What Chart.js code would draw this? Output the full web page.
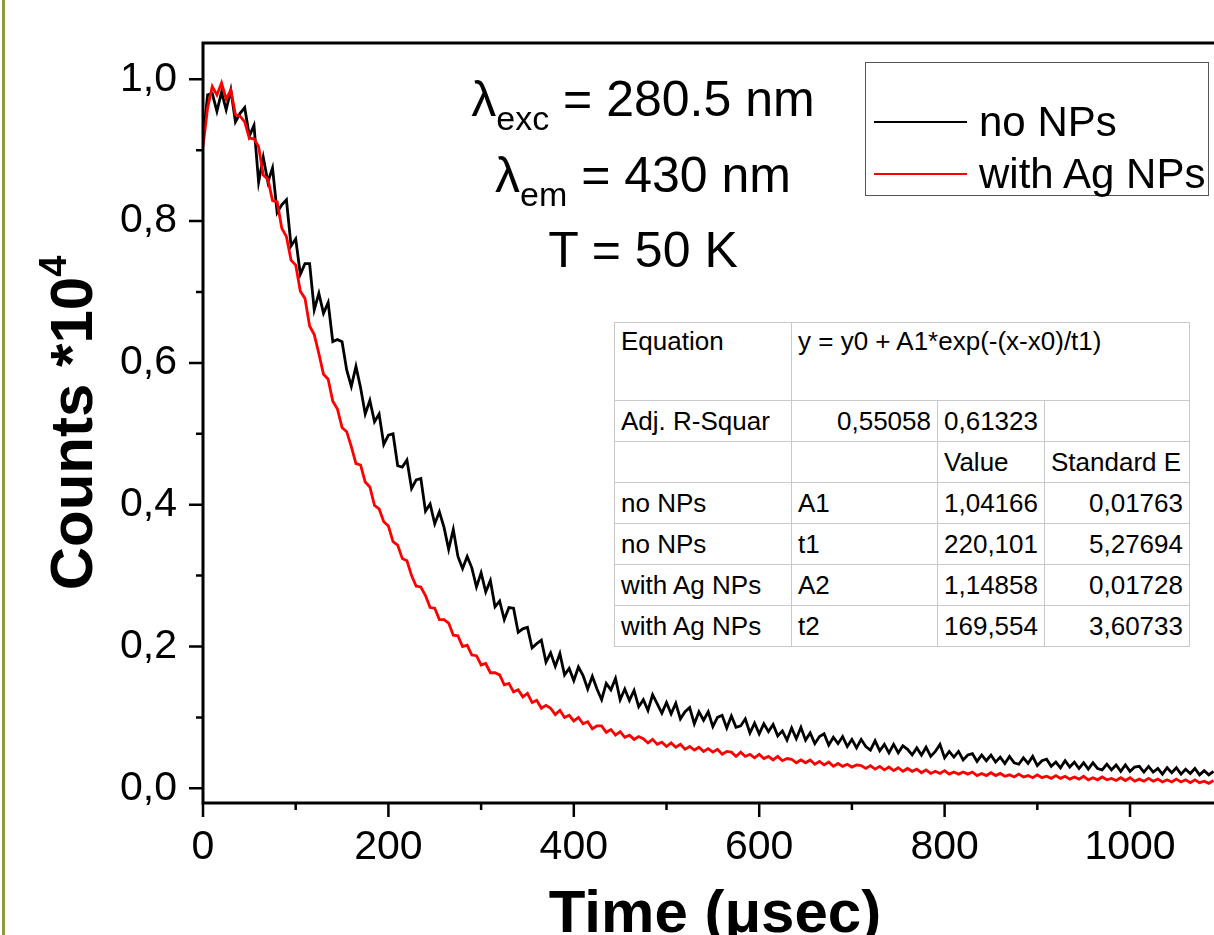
<!DOCTYPE html>
<html>
<head>
<meta charset="utf-8">
<script src="https://cdn.jsdelivr.net/npm/chart.js"></script>
<style>
body { margin: 0; background: #fff; }
#wrap { position: relative; width: 1214px; height: 935px; overflow: hidden; background: #fff;
        font-family: "Liberation Sans", Arial, sans-serif; color: #000; }
#decay { position: absolute; left: 0; top: 0; }
.edge { position: absolute; left: 2px; top: 0; width: 3px; height: 935px; background: #8f9b3c; }
.ytitle { position: absolute; left: 0; top: 0; width: 420px; height: 60px; line-height: 60px;
          font-size: 60px; font-weight: bold; text-align: center; white-space: nowrap;
          transform: translate(-138px, 393px) rotate(-90deg); }
.ytitle .sup { font-size: 38px; position: relative; top: -26px; line-height: 0; }
.xtitle { position: absolute; left: 415px; top: 882px; width: 600px; text-align: center;
          font-size: 60px; line-height: 60px; font-weight: bold; white-space: nowrap; }
.note { position: absolute; left: 393px; width: 500px; text-align: center; font-size: 50px;
        line-height: 50px; white-space: nowrap; }
.note .sub { font-size: 34px; position: relative; top: 14px; line-height: 0; }
.legend { position: absolute; left: 865px; top: 62px; width: 342px; height: 132px;
          border: 1px solid #555; background: #fff; }
.legend .swatch { position: absolute; left: 8px; width: 93px; height: 2px; }
.legend .lbl { position: absolute; left: 113px; font-size: 42px; line-height: 40px; white-space: nowrap; }
#fit { position: absolute; left: 614px; top: 322px; border-collapse: collapse; background: #fff;
       table-layout: fixed; width: 575px; font-size: 26px; border: 1px solid #4a4a4a; }
#fit td { border: 1px solid #c9c9c9; padding: 0 6px; height: 40px; white-space: nowrap; overflow: hidden; }
#fit td.r { text-align: right; }
#fit tr.eq td { height: 74px; vertical-align: top; padding-top: 3px; }
</style>
</head>
<body>
<div id="wrap">
  <canvas id="decay" width="1214" height="935"></canvas>
  <div class="edge"></div>
  <div class="ytitle">Counts *10<span class="sup">4</span></div>
  <div class="xtitle">Time (μsec)</div>
  <div class="note" style="top:74px">λ<span class="sub">exc</span> = 280.5 nm</div>
  <div class="note" style="top:150px">λ<span class="sub">em</span> = 430 nm</div>
  <div class="note" style="top:225px">T = 50 K</div>
  <div class="legend">
    <div class="swatch" style="top:58px;background:#000"></div>
    <div class="lbl" style="top:39px">no NPs</div>
    <div class="swatch" style="top:110px;background:#ff0000"></div>
    <div class="lbl" style="top:91px">with Ag NPs</div>
  </div>
  <table id="fit"></table>
</div>
<script>
// time axis (usec)
const timeUs = [
  0, 5, 10, 15, 20, 25, 30, 35, 40, 45,
  50, 55, 60, 65, 70, 75, 80, 85, 90, 95,
  100, 105, 110, 115, 120, 125, 130, 135, 140, 145,
  150, 155, 160, 165, 170, 175, 180, 185, 190, 195,
  200, 205, 210, 215, 220, 225, 230, 235, 240, 245,
  250, 255, 260, 265, 270, 275, 280, 285, 290, 295,
  300, 305, 310, 315, 320, 325, 330, 335, 340, 345,
  350, 355, 360, 365, 370, 375, 380, 385, 390, 395,
  400, 405, 410, 415, 420, 425, 430, 435, 440, 445,
  450, 455, 460, 465, 470, 475, 480, 485, 490, 495,
  500, 505, 510, 515, 520, 525, 530, 535, 540, 545,
  550, 555, 560, 565, 570, 575, 580, 585, 590, 595,
  600, 605, 610, 615, 620, 625, 630, 635, 640, 645,
  650, 655, 660, 665, 670, 675, 680, 685, 690, 695,
  700, 705, 710, 715, 720, 725, 730, 735, 740, 745,
  750, 755, 760, 765, 770, 775, 780, 785, 790, 795,
  800, 805, 810, 815, 820, 825, 830, 835, 840, 845,
  850, 855, 860, 865, 870, 875, 880, 885, 890, 895,
  900, 905, 910, 915, 920, 925, 930, 935, 940, 945,
  950, 955, 960, 965, 970, 975, 980, 985, 990, 995,
  1000, 1005, 1010, 1015, 1020, 1025, 1030, 1035, 1040, 1045,
  1050, 1055, 1060, 1065, 1070, 1075, 1080, 1085, 1090
];

// counts *10^4, no NPs (black)
const noNPs = [
  0.915, 0.978, 0.980, 0.955, 0.982, 0.957, 0.985, 0.940, 0.952, 0.960,
  0.920, 0.935, 0.855, 0.890, 0.855, 0.875, 0.812, 0.823, 0.830, 0.765,
  0.775, 0.725, 0.740, 0.740, 0.675, 0.698, 0.670, 0.685, 0.630, 0.633,
  0.630, 0.590, 0.567, 0.595, 0.565, 0.528, 0.547, 0.517, 0.528, 0.485,
  0.498, 0.500, 0.455, 0.453, 0.463, 0.423, 0.435, 0.437, 0.391, 0.401,
  0.373, 0.390, 0.368, 0.337, 0.365, 0.327, 0.310, 0.327, 0.311, 0.284,
  0.304, 0.277, 0.293, 0.256, 0.264, 0.238, 0.255, 0.254, 0.220, 0.225,
  0.227, 0.198, 0.204, 0.209, 0.178, 0.191, 0.172, 0.190, 0.160, 0.169,
  0.152, 0.171, 0.159, 0.140, 0.158, 0.140, 0.125, 0.148, 0.139, 0.155,
  0.125, 0.140, 0.124, 0.138, 0.115, 0.125, 0.110, 0.132, 0.119, 0.106,
  0.121, 0.105, 0.120, 0.098, 0.108, 0.114, 0.091, 0.108, 0.096, 0.108,
  0.087, 0.100, 0.103, 0.085, 0.102, 0.086, 0.088, 0.098, 0.078, 0.092,
  0.077, 0.091, 0.080, 0.090, 0.074, 0.081, 0.068, 0.085, 0.070, 0.086,
  0.068, 0.078, 0.063, 0.073, 0.077, 0.061, 0.072, 0.063, 0.073, 0.059,
  0.069, 0.057, 0.069, 0.059, 0.054, 0.067, 0.053, 0.062, 0.050, 0.062,
  0.050, 0.060, 0.055, 0.047, 0.057, 0.047, 0.058, 0.045, 0.052, 0.062,
  0.043, 0.052, 0.044, 0.052, 0.040, 0.047, 0.049, 0.038, 0.047, 0.039,
  0.047, 0.037, 0.044, 0.035, 0.045, 0.036, 0.034, 0.043, 0.035, 0.045,
  0.032, 0.039, 0.041, 0.031, 0.037, 0.029, 0.039, 0.030, 0.037, 0.028,
  0.036, 0.027, 0.036, 0.028, 0.026, 0.034, 0.026, 0.033, 0.024, 0.033,
  0.024, 0.030, 0.031, 0.023, 0.031, 0.023, 0.028, 0.020, 0.029, 0.022,
  0.029, 0.020, 0.027, 0.021, 0.028, 0.019, 0.025, 0.019, 0.024
];

// counts *10^4, with Ag NPs (red)
const withAgNPs = [
  0.905, 0.960, 0.990, 0.978, 0.995, 0.972, 0.985, 0.950, 0.948, 0.940,
  0.917, 0.916, 0.905, 0.865, 0.859, 0.829, 0.827, 0.790, 0.778, 0.745,
  0.738, 0.701, 0.691, 0.652, 0.640, 0.613, 0.584, 0.577, 0.546, 0.535,
  0.509, 0.503, 0.482, 0.458, 0.456, 0.432, 0.425, 0.399, 0.394, 0.376,
  0.370, 0.348, 0.343, 0.324, 0.321, 0.300, 0.285, 0.284, 0.272, 0.255,
  0.254, 0.238, 0.238, 0.233, 0.216, 0.215, 0.200, 0.202, 0.188, 0.187,
  0.174, 0.176, 0.163, 0.163, 0.160, 0.146, 0.148, 0.136, 0.139, 0.129,
  0.134, 0.121, 0.124, 0.113, 0.117, 0.113, 0.104, 0.110, 0.100, 0.103,
  0.095, 0.100, 0.091, 0.094, 0.084, 0.088, 0.088, 0.079, 0.083, 0.075,
  0.080, 0.072, 0.075, 0.069, 0.073, 0.070, 0.064, 0.069, 0.062, 0.065,
  0.059, 0.064, 0.058, 0.062, 0.055, 0.059, 0.054, 0.058, 0.052, 0.056,
  0.051, 0.055, 0.048, 0.052, 0.051, 0.045, 0.051, 0.045, 0.048, 0.043,
  0.048, 0.042, 0.045, 0.040, 0.045, 0.039, 0.042, 0.041, 0.036, 0.040,
  0.036, 0.040, 0.034, 0.038, 0.033, 0.037, 0.031, 0.035, 0.031, 0.034,
  0.030, 0.033, 0.032, 0.028, 0.032, 0.027, 0.031, 0.026, 0.030, 0.025,
  0.029, 0.024, 0.028, 0.024, 0.027, 0.022, 0.026, 0.021, 0.024, 0.021,
  0.025, 0.020, 0.023, 0.020, 0.023, 0.020, 0.023, 0.018, 0.021, 0.018,
  0.022, 0.018, 0.021, 0.017, 0.019, 0.016, 0.020, 0.016, 0.018, 0.015,
  0.019, 0.015, 0.017, 0.014, 0.018, 0.014, 0.017, 0.013, 0.016, 0.013,
  0.017, 0.012, 0.015, 0.012, 0.016, 0.012, 0.014, 0.011, 0.015, 0.011,
  0.015, 0.010, 0.013, 0.010, 0.014, 0.010, 0.013, 0.009, 0.012, 0.009,
  0.013, 0.009, 0.012, 0.008, 0.012, 0.008, 0.010, 0.007, 0.011
];

// tick positions (labels only on the major ones)
const xTickValues = [0, 100, 200, 300, 400, 500, 600, 700, 800, 900, 1000];
const xTickLabels = ['0', '', '200', '', '400', '', '600', '', '800', '', '1000'];
const yTickValues = [0, 0.1, 0.2, 0.3, 0.4, 0.5, 0.6, 0.7, 0.8, 0.9, 1.0];
const yTickLabels = ['0,0', '', '0,2', '', '0,4', '', '0,6', '', '0,8', '', '1,0'];

// fit table (Origin output)
const fitHeader = ['Equation', 'y = y0 + A1*exp(-(x-x0)/t1)'];
const fitRSquare = ['Adj. R-Squar', '0,55058', '0,61323', ''];
const fitColumns = ['', '', 'Value', 'Standard E'];
const fitRows = [
  ['no NPs', 'A1', '1,04166', '0,01763'],
  ['no NPs', 't1', '220,101', '5,27694'],
  ['with Ag NPs', 'A2', '1,14858', '0,01728'],
  ['with Ag NPs', 't2', '169,554', '3,60733']
];

const font = '"Liberation Sans", Arial, sans-serif';

function buildTable() {
    const t = document.getElementById('fit');
    const colW = [177, 146, 107, 145];
    let html = '<colgroup>' + colW.map(w => '<col style="width:' + w + 'px">').join('') + '</colgroup>';
    html += '<tr class="eq"><td>' + fitHeader[0] + '</td><td colspan="3">' + fitHeader[1] + '</td></tr>';
    html += '<tr><td>' + fitRSquare[0] + '</td><td class="r">' + fitRSquare[1] +
        '</td><td>' + fitRSquare[2] + '</td><td>' + fitRSquare[3] + '</td></tr>';
    html += '<tr>' + fitColumns.map(c => '<td>' + c + '</td>').join('') + '</tr>';
    fitRows.forEach(r => {
        html += '<tr><td>' + r[0] + '</td><td>' + r[1] + '</td><td>' + r[2] + '</td><td class="r">' + r[3] + '</td></tr>';
    });
    t.innerHTML = html;
}
buildTable();

// axis frame + Origin style outward ticks (major long, minor short)
const frameTicks = {
    id: 'frameTicks',
    afterDraw(chart) {
        const {ctx, chartArea: a, scales: {x, y}} = chart;
        ctx.save();
        ctx.strokeStyle = '#000';
        ctx.lineWidth = 2.5;
        ctx.beginPath();
        yTickValues.forEach((v, i) => {
            const py = y.getPixelForValue(v);
            const len = yTickLabels[i] ? 14 : 7;
            ctx.moveTo(a.left, py);
            ctx.lineTo(a.left - len, py);
        });
        xTickValues.forEach((v, i) => {
            const px = x.getPixelForValue(v);
            const len = xTickLabels[i] ? 14 : 7;
            ctx.moveTo(px, a.bottom);
            ctx.lineTo(px, a.bottom + len);
        });
        ctx.stroke();
        ctx.lineWidth = 3;
        ctx.beginPath();
        ctx.moveTo(a.right, a.top);
        ctx.lineTo(a.left, a.top);
        ctx.lineTo(a.left, a.bottom);
        ctx.lineTo(a.right, a.bottom);
        ctx.stroke();
        ctx.restore();
    }
};

const decayChart = new Chart(document.getElementById('decay'), {
    type: 'line',
    data: {
        datasets: [{
            label: 'no NPs',
            data: timeUs.map((t, i) => ({x: t, y: noNPs[i]})),
            borderColor: '#000000',
            borderWidth: 2.8,
            pointRadius: 0,
            order: 1
        }, {
            label: 'with Ag NPs',
            data: timeUs.map((t, i) => ({x: t, y: withAgNPs[i]})),
            borderColor: '#ff0000',
            borderWidth: 2.8,
            pointRadius: 0,
            order: 0
        }]
    },
    options: {
        responsive: false,
        animation: false,
        layout: {padding: {top: 43, right: 0, bottom: 0, left: 0}},
        plugins: {
            legend: {display: false},
            tooltip: {enabled: false}
        },
        scales: {
            x: {
                type: 'linear',
                min: 0,
                max: 1090.6,
                afterFit: s => { s.height = 132; },
                afterBuildTicks: s => { s.ticks = xTickValues.map(v => ({value: v})); },
                border: {display: false},
                grid: {drawOnChartArea: false, drawTicks: true, tickLength: 14, tickColor: 'rgba(0,0,0,0)'},
                ticks: {
                    autoSkip: false,
                    maxRotation: 0,
                    padding: 6,
                    color: '#000',
                    font: {family: font, size: 41},
                    callback: (v, i) => xTickLabels[i]
                }
            },
            y: {
                type: 'linear',
                min: -0.0207,
                max: 1.0512,
                afterFit: s => { s.width = 203; },
                afterBuildTicks: s => { s.ticks = yTickValues.map(v => ({value: v})); },
                border: {display: false},
                grid: {drawOnChartArea: false, drawTicks: true, tickLength: 14, tickColor: 'rgba(0,0,0,0)'},
                ticks: {
                    autoSkip: false,
                    padding: 12,
                    color: '#000',
                    font: {family: font, size: 41},
                    callback: (v, i) => yTickLabels[i]
                }
            }
        }
    },
    plugins: [frameTicks]
});
</script>
</body>
</html>
